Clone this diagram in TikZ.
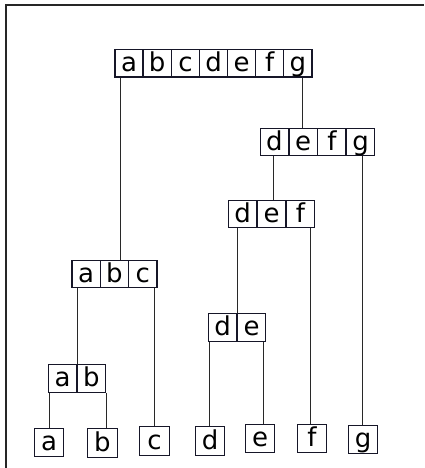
\documentclass[tikz,border=0pt]{standalone}
\usepackage{fontspec}
\setmainfont{DejaVu Sans}
\definecolor{boxc}{RGB}{22,22,40}
\definecolor{linec}{RGB}{40,40,40}
\begin{document}
\begin{tikzpicture}[x=1pt,y=-1pt,
  cell/.style={draw=boxc, line width=1.3pt, minimum width=28.4pt, minimum height=27.5pt,
    inner sep=0pt, font=\fontsize{26}{26}\selectfont, text height=20pt, text depth=4pt, fill=white},
  leaf/.style={cell, minimum width=29.5pt, minimum height=28.5pt},
  link/.style={draw=linec, line width=0.9pt},
  frame/.style={draw=black!85, line width=2pt}]
\useasboundingbox (0,0) rectangle (424,468);
\draw[frame] (5.5,468) -- (5.5,5.5) -- (424,5.5);
% top
\node[cell] (ta) at (129.1,63.3) {a};
\node[cell] (tb) at (157.2,63.3) {b};
\node[cell] (tc) at (185.4,63.3) {c};
\node[cell] (td) at (213.5,63.3) {d};
\node[cell] (te) at (241.6,63.3) {e};
\node[cell] (tf) at (269.8,63.3) {f};
\node[cell] (tg) at (297.9,63.3) {g};
% defg
\node[cell] (gd) at (274.4,142) {d};
\node[cell] (ge) at (303.1,142) {e};
\node[cell] (gf) at (331.9,142) {f};
\node[cell] (gg) at (360.6,142) {g};
% def
\node[cell] (fd) at (242.5,214) {d};
\node[cell] (fe) at (271.5,214) {e};
\node[cell] (ff) at (300.5,214) {f};
% abc
\node[cell] (ca) at (86.2,274) {a};
\node[cell] (cb) at (114.5,274) {b};
\node[cell] (cc) at (142.8,274) {c};
% de
\node[cell] (ed) at (222.5,327.5) {d};
\node[cell] (ee) at (251.5,327.5) {e};
% ab
\node[cell] (ba) at (62.5,378.5) {a};
\node[cell] (bb) at (91.5,378.5) {b};
% leaves
\node[leaf] (la) at (49,442.5) {a};
\node[leaf] (lb) at (102.5,443) {b};
\node[leaf] (lc) at (154.5,441) {c};
\node[leaf] (ld) at (210,441) {d};
\node[leaf] (le) at (260,438.5) {e};
\node[leaf] (lf) at (312,438.5) {f};
\node[leaf] (lg) at (363,439.5) {g};
% connectors
\draw[link] ([xshift=-9.1pt]ta.south) -- ([xshift=-9.1pt]ta.south |- cb.north);
\draw[link] ([xshift=4.1pt]tg.south) -- ([xshift=4.1pt]tg.south |- ge.north);
\draw[link] ([xshift=-1.4pt]gd.south) -- ([xshift=-1.4pt]gd.south |- fe.north);
\draw[link] ([xshift=1.4pt]gg.south) -- ([xshift=1.4pt]gg.south |- lg.north);
\draw[link] ([xshift=-5.5pt]fd.south) -- ([xshift=-5.5pt]fd.south |- ed.north);
\draw[link] ([xshift=9.5pt]ff.south) -- ([xshift=9.5pt]ff.south |- lf.north);
\draw[link] ([xshift=-13.5pt]ed.south) -- ([xshift=-13.5pt]ed.south |- ld.north);
\draw[link] ([xshift=11.5pt]ee.south) -- ([xshift=11.5pt]ee.south |- le.north);
\draw[link] ([xshift=-9.2pt]ca.south) -- ([xshift=-9.2pt]ca.south |- ba.north);
\draw[link] ([xshift=11.2pt]cc.south) -- ([xshift=11.2pt]cc.south |- lc.north);
\draw[link] ([xshift=-13.5pt]ba.south) -- ([xshift=-13.5pt]ba.south |- la.north);
\draw[link] ([xshift=14.5pt]bb.south) -- ([xshift=14.5pt]bb.south |- lb.north);
\end{tikzpicture}
\end{document}
